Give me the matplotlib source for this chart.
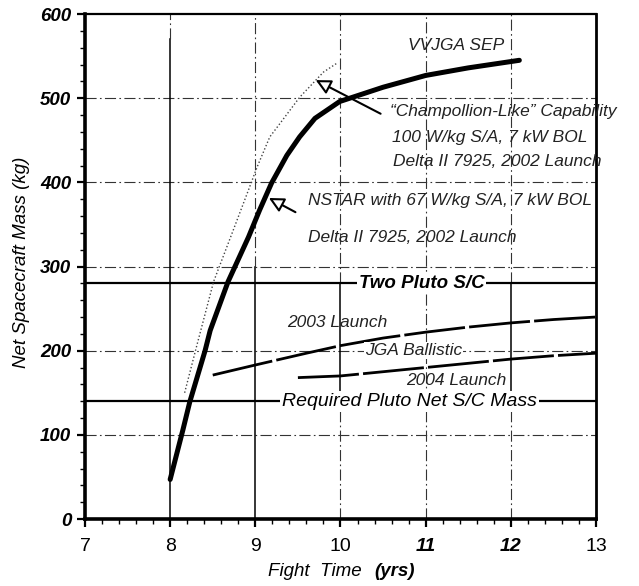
import matplotlib
matplotlib.use('Agg')
import matplotlib.pyplot as plt
from matplotlib.ticker import MultipleLocator

plt.rcParams['font.family'] = ['Liberation Sans', 'DejaVu Sans']

# NSTAR, 67 W/kg array (thick curve)
nstar_x = [8.0, 8.15, 8.23, 8.41, 8.47, 8.68, 8.92, 9.05, 9.19, 9.37, 9.52, 9.70, 9.99, 10.5, 11.0, 11.5, 12.1]
nstar_y = [47, 106, 139, 200, 224, 282, 335, 367, 399, 432, 454, 476, 496, 513, 527, 536, 545]

# Champollion-like capability (dotted curve)
champ_x = [8.17, 8.31, 8.51, 8.74, 8.92, 9.02, 9.17, 9.29, 9.52, 9.80, 9.95]
champ_y = [150, 205, 282, 343, 391, 418, 454, 470, 501, 531, 541]

# JGA ballistic, 2003 and 2004 launches
launch03_x = [8.5, 9.0, 9.6, 10.0, 10.5, 11.0, 11.5, 12.0, 12.5, 13.0]
launch03_y = [171, 183, 197, 206, 215, 222, 228, 233, 237, 240]
launch04_x = [9.5, 10.0, 10.5, 11.0, 11.5, 12.0, 12.5, 13.0]
launch04_y = [168, 170, 175, 180, 185, 190, 194, 197]

two_pluto = 280
required_mass = 140

x_ticks = [7, 8, 9, 10, 11, 12, 13]
y_ticks = [0, 100, 200, 300, 400, 500, 600]

fig = plt.figure(figsize=(6.39, 5.86), dpi=100)
ax = fig.add_axes([0.133, 0.1143, 0.7997, 0.8618])
ax.set_xlim(7, 13)
ax.set_ylim(0, 600)

dashdot = (0, (10, 3, 1.5, 3))
# grid
for y in y_ticks[1:-1]:
    ax.axhline(y, color='#333333', lw=0.8, ls=dashdot, zorder=1)
ax.plot([8, 8], [0, 570], color='black', lw=1.1, zorder=1)
ax.plot([8, 8], [570, 600], color='#333333', lw=0.8, ls=dashdot, zorder=1)
ax.plot([9, 9], [0, 300], color='black', lw=1.1, zorder=1)
ax.plot([9, 9], [300, 600], color='#333333', lw=0.8, ls=dashdot, zorder=1)
for x in (10, 12):
    ax.plot([x, x], [150, 280], color='black', lw=1.1, zorder=1)
    ax.plot([x, x], [0, 150], color='#333333', lw=0.8, ls=dashdot, zorder=1)
    ax.plot([x, x], [280, 600], color='#333333', lw=0.8, ls=dashdot, zorder=1)
ax.axvline(11, color='#333333', lw=0.8, ls=dashdot, zorder=1)

# reference mass levels
ax.axhline(two_pluto, color='black', lw=1.6, zorder=2)
ax.axhline(required_mass, color='black', lw=1.6, zorder=2)

# curves
ax.plot(launch03_x, launch03_y, color='black', lw=2.0, ls=(0, (22, 1.5)), zorder=3)
ax.plot(launch04_x, launch04_y, color='black', lw=2.0, ls=(0, (22, 1.5)), zorder=3)
ax.plot(champ_x, champ_y, color='#444444', lw=1.0, ls=(0, (1, 1.6)), zorder=3)
ax.plot(nstar_x, nstar_y, color='black', lw=3.6, solid_capstyle='round', zorder=4)

# labels on the reference lines
box = dict(facecolor='white', edgecolor='none', pad=1.5)
ax.text(10.95, two_pluto, 'Two Pluto S/C', fontsize=13.5, fontweight='bold', style='italic',
        ha='center', va='center', bbox=box, zorder=5)
ax.text(10.81, required_mass, 'Required Pluto Net S/C Mass', fontsize=14, style='italic',
        ha='center', va='center', bbox=box, zorder=5)

thin = dict(fontsize=12.5, style='italic', color='#222222', zorder=5)
ax.text(11.36, 563, 'VVJGA SEP', ha='center', va='center', **thin)
ax.text(10.58, 484, '\u201cChampollion-Like\u201d Capability', ha='left', va='center', **thin)
ax.text(10.60, 453, '100 W/kg S/A, 7 kW BOL', ha='left', va='center', **thin)
ax.text(10.62, 425, 'Delta II 7925, 2002 Launch', ha='left', va='center', **thin)
ax.text(9.62, 379, 'NSTAR with 67 W/kg S/A, 7 kW BOL', ha='left', va='center', **thin)
ax.text(9.62, 335, 'Delta II 7925, 2002 Launch', ha='left', va='center', **thin)
ax.text(9.96, 233, '2003 Launch', ha='center', va='center', **thin)
ax.text(10.86, 200, 'JGA Ballistic', ha='center', va='center',
        bbox=dict(facecolor='white', edgecolor='none', pad=0.5), **thin)
ax.text(11.36, 165, '2004 Launch', ha='center', va='center', **thin)

arrow = dict(arrowstyle='-|>,head_length=0.9,head_width=0.45', fc='white', ec='black', lw=1.5)
ax.annotate('', xy=(9.68, 523), xytext=(10.50, 480), arrowprops=arrow, zorder=6)
ax.annotate('', xy=(9.13, 383), xytext=(9.50, 363), arrowprops=arrow, zorder=6)

# axes styling
ax.spines['left'].set_linewidth(2.6)
ax.spines['bottom'].set_linewidth(2.6)
ax.spines['top'].set_linewidth(1.6)
ax.spines['right'].set_linewidth(2.0)

ax.set_xticks(x_ticks)
ax.set_yticks(y_ticks)
ax.xaxis.set_minor_locator(MultipleLocator(0.2))
ax.yaxis.set_minor_locator(MultipleLocator(20))
ax.tick_params(which='major', direction='out', length=6, width=1.6, pad=8)
ax.tick_params(which='minor', direction='out', length=3.5, width=1.0)
ax.tick_params(axis='y', which='major', pad=4)

ax.set_xticklabels([str(t) for t in x_ticks], fontsize=14)
for lab in ax.get_xticklabels():
    if lab.get_text() in ('11', '12'):
        lab.set_fontweight('bold')
        lab.set_style('italic')
ax.set_yticklabels([str(t) for t in y_ticks], fontsize=13.5, fontweight='bold', style='italic')

fig.text(22 / 639, 1 - 262 / 586, 'Net Spacecraft Mass (kg)', rotation=90, fontsize=13.5,
         style='italic', ha='center', va='center')
fig.text(362 / 639, 1 - 571 / 586, 'Fight  Time', fontsize=13.5, style='italic',
         ha='right', va='center')
fig.text(374 / 639, 1 - 571 / 586, '(yrs)', fontsize=13.5, style='italic', fontweight='bold',
         ha='left', va='center')

fig.savefig('out.png', dpi=100, facecolor='white')
